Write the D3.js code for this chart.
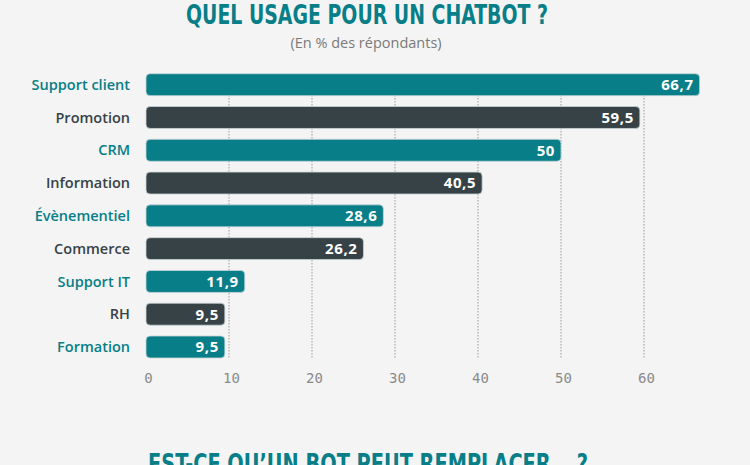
<!DOCTYPE html>
<html>
<head>
<meta charset="utf-8">
<script src="https://cdn.jsdelivr.net/npm/d3@7"></script>
<style>
  html, body { margin: 0; padding: 0; background: #f4f4f4; }
  svg { display: block; }
</style>
</head>
<body>
<svg id="chart" width="750" height="465"></svg>
<script>
const categories = ["Support client", "Promotion", "CRM", "Information", "Évènementiel", "Commerce", "Support IT", "RH", "Formation"];
const values = [66.7, 59.5, 50, 40.5, 28.6, 26.2, 11.9, 9.5, 9.5];
const tickValues = [0, 10, 20, 30, 40, 50, 60];
const title = "QUEL USAGE POUR UN CHATBOT ?";
const subtitle = "(En % des répondants)";
const nextTitle = "EST-CE QU’UN BOT PEUT REMPLACER… ?";

const TEAL = "#077e88";
const DARK = "#374247";
const svg = d3.select("#chart");

svg.append("rect").attr("width", 750).attr("height", 465).attr("fill", "#f4f4f4");

const x = d3.scaleLinear().domain([0, 60]).range([146, 644]);
const y = d3.scaleBand().domain(categories).range([68.3, 363.4]).paddingInner(0.33).paddingOuter(0.165);

// Title
svg.append("text")
  .attr("x", 186).attr("y", 23.5)
  .attr("textLength", 362).attr("lengthAdjust", "spacingAndGlyphs")
  .attr("font-family", "'DejaVu Sans Condensed', 'DejaVu Sans', sans-serif")
  .attr("font-weight", "bold").attr("font-size", 27)
  .attr("fill", TEAL).text(title);

svg.append("text")
  .attr("x", 366).attr("y", 48).attr("text-anchor", "middle")
  .attr("font-family", "'Open Sans', sans-serif").attr("font-size", 14.5)
  .attr("fill", "#7a7a7a").text(subtitle);

// Grid lines
svg.append("g").selectAll("line")
  .data(tickValues.filter(t => t > 0))
  .join("line")
  .attr("x1", d => x(d)).attr("x2", d => x(d))
  .attr("y1", 74).attr("y2", 358)
  .attr("stroke", "#9a9a9a").attr("stroke-width", 1)
  .attr("stroke-dasharray", "1.5,1.5");

// Axis (labels only)
const axis = d3.axisBottom(x).tickValues(tickValues).tickSize(0).tickPadding(0);
const gAxis = svg.append("g").attr("transform", "translate(2,373)").call(axis);
gAxis.select(".domain").remove();
gAxis.selectAll("text")
  .attr("font-family", "'DejaVu Sans Mono', monospace")
  .attr("font-size", 14).attr("fill", "#8a8a8a");

const data = categories.map((c, i) => ({ c, v: values[i], i }));
const color = d => d.i % 2 === 0 ? TEAL : DARK;

// Bars
svg.append("g").selectAll("rect")
  .data(data).join("rect")
  .attr("x", x(0)).attr("y", d => y(d.c))
  .attr("width", d => x(d.v) - x(0))
  .attr("height", y.bandwidth())
  .attr("rx", 4).attr("ry", 4)
  .attr("fill", color)
  .attr("stroke", "#c9d6d8").attr("stroke-width", 0.8);

const fmt = v => d3.format("")(v).replace(".", ",");

// Value labels
svg.append("g").selectAll("text")
  .data(data).join("text")
  .attr("x", d => x(d.v) - 6)
  .attr("y", d => y(d.c) + y.bandwidth() / 2)
  .attr("dy", "0.36em")
  .attr("text-anchor", "end")
  .attr("font-family", "'Open Sans', sans-serif")
  .attr("font-weight", 700).attr("font-size", 15)
  .attr("letter-spacing", 0.6)
  .attr("fill", "#ffffff")
  .text(d => fmt(d.v));

// Category labels
svg.append("g").selectAll("text")
  .data(data).join("text")
  .attr("x", 130)
  .attr("y", d => y(d.c) + y.bandwidth() / 2)
  .attr("dy", "0.36em")
  .attr("text-anchor", "end")
  .attr("font-family", "'Open Sans', sans-serif")
  .attr("font-weight", 600).attr("font-size", 14.5)
  .attr("fill", color)
  .text(d => d.c);

// Next section title (cut off at bottom edge, as in the reference)
svg.append("text")
  .attr("x", 148).attr("y", 473)
  .attr("textLength", 440).attr("lengthAdjust", "spacingAndGlyphs")
  .attr("font-family", "'DejaVu Sans Condensed', 'DejaVu Sans', sans-serif")
  .attr("font-weight", "bold").attr("font-size", 27)
  .attr("fill", TEAL).text(nextTitle);
</script>
</body>
</html>
